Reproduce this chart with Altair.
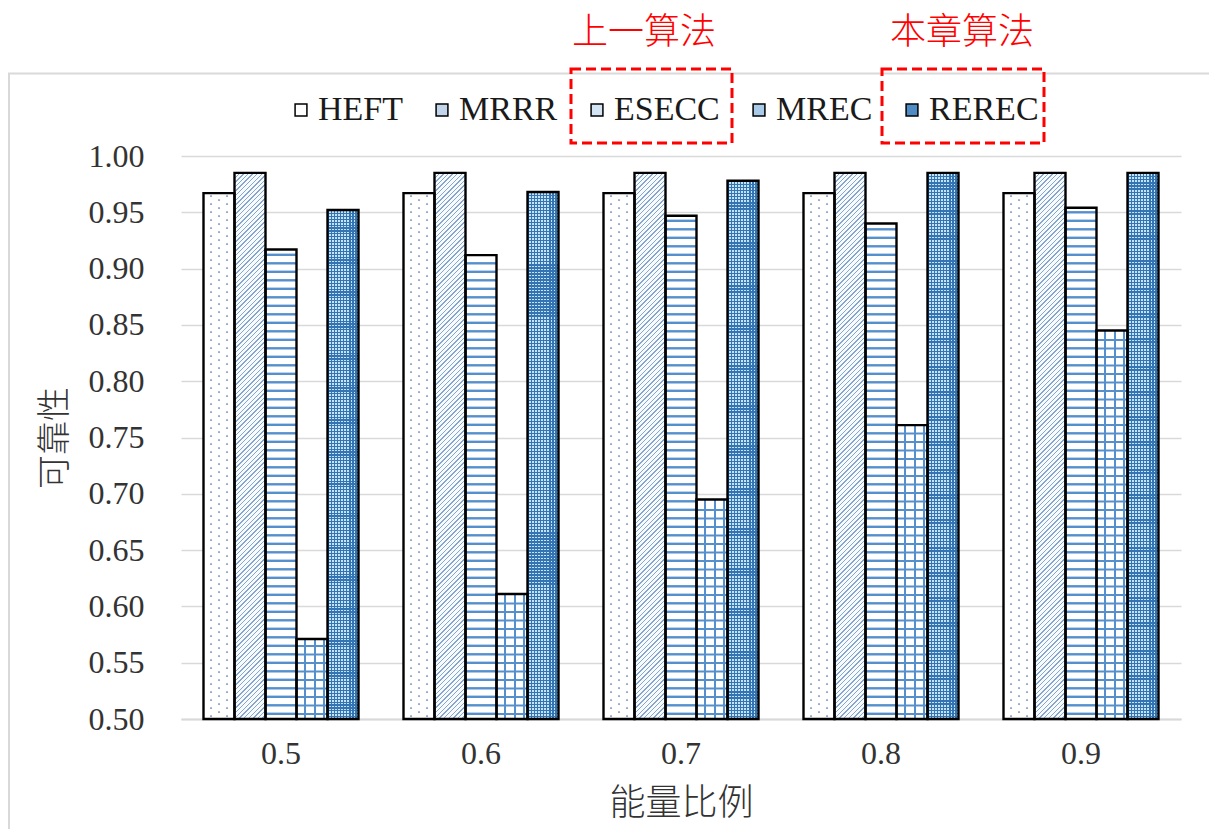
import altair as alt
import pandas as pd

# ---- data -------------------------------------------------------------
ratios = ["0.5", "0.6", "0.7", "0.8", "0.9"]
series = ["HEFT", "MRRR", "ESECC", "MREC", "REREC"]
heft = [0.967, 0.967, 0.967, 0.967, 0.967]
mrrr = [0.985, 0.985, 0.985, 0.985, 0.985]
esecc = [0.917, 0.912, 0.947, 0.940, 0.954]
mrec = [0.571, 0.611, 0.695, 0.761, 0.845]
rerec = [0.952, 0.968, 0.978, 0.985, 0.985]
y_ticks = [0.50, 0.55, 0.60, 0.65, 0.70, 0.75, 0.80, 0.85, 0.90, 0.95, 1.00]
legend_fill = ["#ffffff", "#c3d5ea", "#d3e4f4", "#a9cbe9", "#4f8cc6"]

values = {"HEFT": heft, "MRRR": mrrr, "ESECC": esecc, "MREC": mrec, "REREC": rerec}

# ---- geometry ---------------------------------------------------------
W, H = 1000, 563
Y0, Y1 = 0.5, 1.0
PX = (Y1 - Y0) / H            # data units per pixel on the y scale
BAR_W = 155 / 5               # width of a single bar inside a group

SERIF = "Liberation Serif"
CJK = "Noto Sans CJK SC"
BLUE = "#5590cc"
CLEAR = "rgba(255,255,255,0)"

bars = pd.DataFrame(
    [{"ratio": r, "series": s, "value": values[s][i]}
     for s in series for i, r in enumerate(ratios)]
)


def hatch_rows(name, period_px, thick_px, start_px):
    """Thin horizontal strips stacked inside every bar of one series."""
    out = []
    for i, r in enumerate(ratios):
        top = values[name][i]
        y = Y0 + start_px * PX
        k = 0
        while y + thick_px * PX <= top - 1.5 * PX:
            out.append({"ratio": r, "series": name, "y0": y,
                        "y1": y + thick_px * PX, "row": k})
            y += period_px * PX
            k += 1
    return pd.DataFrame(out)


esecc_lines = hatch_rows("ESECC", 8.5, 2.4, 4.0)
mrec_lines = hatch_rows("MREC", 8.5, 2.0, 4.0)
heft_dots = hatch_rows("HEFT", 4.0, 1.8, 2.0)


# ---- gradient fills used as hatch patterns ----------------------------
def stop(o, c):
    return {"offset": round(min(max(o, 0.0), 1.0), 5), "color": c}


def bands(n, frac, ink, paper):
    st = []
    for k in range(n):
        a, b, c = k / n, (k + frac) / n, (k + 1) / n
        st += [stop(a, ink), stop(b, ink), stop(b, paper), stop(c, paper)]
    return st


def spots(centres, half, ink, paper):
    st = [stop(0, paper)]
    for c in centres:
        st += [stop(c - half, paper), stop(c - half, ink),
               stop(c + half, ink), stop(c + half, paper)]
    st.append(stop(1, paper))
    return st


def linear(st, x2, y2):
    return {"gradient": "linear", "x1": 0, "y1": 0, "x2": x2, "y2": y2, "stops": st}


# 45 degree hatching for the MRRR bars (all of equal height)
h_mrrr = (max(mrrr) - Y0) / PX
ratio_hw = h_mrrr / BAR_W
a_vec = (1 + ratio_hw) / (1 + ratio_hw ** 2)
n_diag = int(round((BAR_W + h_mrrr) / 4.6))
mrrr_fill = linear(bands(n_diag, 0.30, "#86a6ce", "#f7fbfe"), a_vec, a_vec * ratio_hw)

mrec_fill = linear(spots([0.28, 0.60, 0.89], 0.035, BLUE, "#ffffff"), 1, 0)
rerec_cols = linear(bands(10, 0.42, "#3474b2", "#c4e3f6"), 1, 0)
rerec_rows = linear(bands(175, 0.40, "#3474b2", CLEAR), 0, 1)
heft_even = linear(spots([0.23, 0.75], 0.03, "#98acc6", CLEAR), 1, 0)
heft_odd = linear(spots([0.49], 0.03, "#98acc6", CLEAR), 1, 0)

# ---- shared encodings -------------------------------------------------
x_axis = alt.Axis(
    labelFont=SERIF, labelFontSize=32, labelColor="#333333", labelAngle=0,
    labelPadding=34, labelBaseline="middle", ticks=False,
    domainColor="#d9d9d9", domainWidth=2, grid=False,
    titleFont=CJK, titleFontSize=36, titleFontWeight=300,
    titleColor="#333333", titleBaseline="middle", titleY=84,
)
y_axis = alt.Axis(
    values=y_ticks, format=".2f",
    labelFont=SERIF, labelFontSize=32, labelColor="#333333", labelPadding=37,
    ticks=False, domain=False, grid=True, gridColor="#d9d9d9", gridWidth=1.5,
    titleFont=CJK, titleFontSize=34, titleFontWeight=300,
    titleColor="#333333", titleAngle=270, titleAlign="center",
    titleBaseline="middle", titleX=-126, titleY=H / 2,
)
X = alt.X("ratio:N", title="能量比例", axis=x_axis,
          scale=alt.Scale(domain=ratios, paddingInner=0.225, paddingOuter=0.1125))
XO = alt.XOffset("series:N",
                 scale=alt.Scale(domain=series, paddingInner=0, paddingOuter=0))
y_scale = alt.Scale(domain=[Y0, Y1], zero=False, nice=False)


def Y(field):
    return alt.Y(field, type="quantitative", title="可靠性", scale=y_scale, axis=y_axis)


def bar_layer(df, **mark):
    return alt.Chart(df).mark_bar(**mark).encode(
        x=X, xOffset=XO, y=Y("value"), y2=alt.datum(Y0))


def strip_layer(df, **mark):
    return alt.Chart(df).mark_bar(**mark).encode(
        x=X, xOffset=XO, y=Y("y0"), y2="y1")


# ---- layers -----------------------------------------------------------
one = pd.DataFrame({"k": [0]})

frame = alt.Chart(one).mark_rect(fillOpacity=0, stroke="#d9d9d9", strokeWidth=2).encode(
    x=alt.value(-172), x2=alt.value(1060), y=alt.value(-82.5), y2=alt.value(720))

base = alt.Chart(bars).mark_bar().encode(
    x=X, xOffset=XO, y=Y("value"), y2=alt.datum(Y0),
    color=alt.Color(
        "series:N", title=None,
        scale=alt.Scale(domain=series, range=legend_fill),
        legend=alt.Legend(
            orient="none", legendX=103, legendY=-63, direction="horizontal",
            columns=5, symbolType="square", symbolSize=140,
            symbolStrokeColor="#000000", symbolStrokeWidth=1.5, symbolOpacity=1,
            labelFont=SERIF, labelFontSize=34, labelColor="#1a1a1a",
            labelOffset=0, columnPadding=22, padding=0,
        ),
    ),
)

white = bar_layer(bars[bars.series.isin(["HEFT", "ESECC"])], fill="#ffffff")
mrrr_l = bar_layer(bars[bars.series == "MRRR"], fill=mrrr_fill)
mrec_l = bar_layer(bars[bars.series == "MREC"], fill=mrec_fill)
rerec_a = bar_layer(bars[bars.series == "REREC"], fill=rerec_cols)
rerec_b = bar_layer(bars[bars.series == "REREC"], fill=rerec_rows)

heft_a = strip_layer(heft_dots[heft_dots.row % 2 == 0], fill=heft_even)
heft_b = strip_layer(heft_dots[heft_dots.row % 2 == 1], fill=heft_odd)
esecc_l = strip_layer(esecc_lines, fill=BLUE)
mrec_h = strip_layer(mrec_lines, fill=BLUE)

outline = bar_layer(bars, fillOpacity=0, stroke="#000000", strokeWidth=2.4)

tags = [("上一算法", 463, 390, 551), ("本章算法", 781, 701, 863)]
notes = []
for label, cx, bx0, bx1 in tags:
    notes.append(alt.Chart(one).mark_text(
        font=CJK, fontSize=36, fontWeight=300, color="#ff0000",
        align="center", baseline="middle").encode(
        x=alt.value(cx), y=alt.value(-123), text=alt.value(label)))
    notes.append(alt.Chart(one).mark_rect(
        fillOpacity=0, stroke="#ff0000", strokeWidth=3, strokeDash=[10, 5]).encode(
        x=alt.value(bx0), x2=alt.value(bx1), y=alt.value(-87), y2=alt.value(-13)))

chart = alt.layer(
    frame, base, white, mrrr_l, mrec_l, rerec_a, rerec_b,
    heft_a, heft_b, esecc_l, mrec_h, outline, *notes,
).properties(
    width=W, height=H, autosize="none",
    padding={"left": 181, "top": 156, "right": 28, "bottom": 110},
    background="#ffffff",
).configure_view(strokeWidth=0)

chart.save("out.html", embed_options={"renderer": "svg", "actions": False})
